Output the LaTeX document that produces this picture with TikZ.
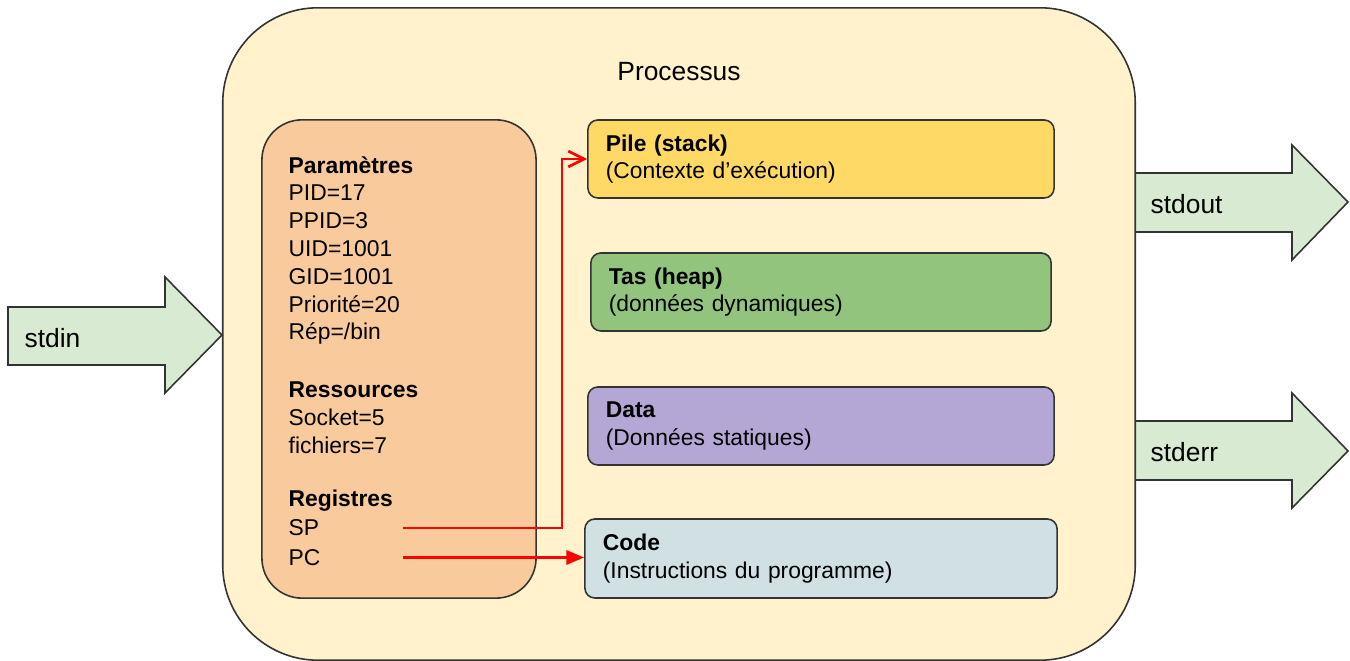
\documentclass[tikz,border=0pt]{standalone}
\usepackage{fontspec}
\setmainfont{Liberation Sans}
\usepackage{tikz}
\usetikzlibrary{arrows.meta,positioning}
\definecolor{procfill}{HTML}{FFF2CC}
\definecolor{infofill}{HTML}{F9CB9C}
\definecolor{pilefill}{HTML}{FFD966}
\definecolor{tasfill}{HTML}{93C47D}
\definecolor{datafill}{HTML}{B4A7D6}
\definecolor{codefill}{HTML}{D0E0E3}
\definecolor{fluxfill}{HTML}{D9EAD3}
\definecolor{trait}{HTML}{333333}
\tikzset{
    %Define standard arrow tip
    >={Triangle[length=5pt,width=4pt]},
    %Define style for the process box
    processus/.style={
           rectangle,
           rounded corners=0.95cm,
           draw=trait, line width=0.45pt,
           fill=procfill,
           minimum width=9.12cm,
           minimum height=6.52cm},
    infos/.style={
           rectangle,
           rounded corners=0.4cm,
           draw=trait, line width=0.45pt,
           fill=infofill,
           minimum width=2.74cm,
           minimum height=4.78cm},
    %Define style for memory boxes
    membox/.style={
           rectangle,
           rounded corners=0.1cm,
           draw=trait, line width=0.45pt,
           minimum width=4.66cm,
           minimum height=0.78cm,
           text width=4.30cm,
           inner xsep=0.18cm,
           align=left,
           font=\fontsize{6.5}{7.9}\selectfont},
    groupe/.style={
           anchor=west,
           inner sep=0pt,
           align=left,
           font=\fontsize{6.5}{7.9}\selectfont},
    registre/.style={
           anchor=west,
           inner sep=0pt,
           text width=1.14cm,
           align=left,
           font=\fontsize{6.5}{7.9}\selectfont},
    titre/.style={
           font=\fontsize{7.5}{9}\selectfont},
    fluxlabel/.style={
           anchor=west,
           inner sep=0pt,
           font=\fontsize{7.5}{9}\selectfont},
    % Define flux arrow style
    flux/.style={
           draw=trait, line width=0.45pt,
           fill=fluxfill},
    % Define pointer style
    pointeur/.style={
           red,
           line width=0.75pt}
}
\begin{document}
\begin{tikzpicture}[x=0.01cm,y=-0.01cm]
\useasboundingbox (0,0) rectangle (1350,661);
% flux
\draw[flux] (8,307) -- (165,307) -- (165,277) -- (222,335) -- (165,393) -- (165,365) -- (8,365) -- cycle;
\draw[flux] (1135,173) -- (1292,173) -- (1292,145) -- (1348,202) -- (1292,260) -- (1292,232) -- (1135,232) -- cycle;
\draw[flux] (1135,421) -- (1292,421) -- (1292,393) -- (1348,451) -- (1292,508) -- (1292,480) -- (1135,480) -- cycle;
\node[fluxlabel](stdin) at (24,338){stdin};
\node[fluxlabel](stdout) at (1150,204){stdout};
\node[fluxlabel](stderr) at (1150,452){stderr};
% processus
\node[processus](proc) at (679,334){};
\node[titre](titre) at (679,72){Processus};
\node[infos](infos) at (399,359){};
\node[groupe](param) at (288,250.5){\textbf{Paramètres}\\PID=17\\PPID=3\\UID=1001\\GID=1001\\Priorité=20\\Rép=/bin};
\node[groupe](ress) at (288,417.5){\textbf{Ressources}\\Socket=5\\fichiers=7};
\node[groupe](reg) at (288,500.5){\textbf{Registres}};
\node[registre](sp) at (288,528){SP};
\node[registre](pc) at (288,557.5){PC};
% memoire
\node[membox, fill=pilefill](pile) at (821,159){\textbf{Pile (stack)}\\(Contexte d’exécution)};
\node[membox, fill=tasfill, minimum width=4.60cm, text width=4.24cm](tas) at (821,292){\textbf{Tas (heap)}\\(données dynamiques)};
\node[membox, fill=datafill](data) at (821,426){\textbf{Data}\\(Données statiques)};
\node[membox, fill=codefill, minimum width=4.72cm, text width=4.36cm, minimum height=0.79cm](code) at (821,558.5){\textbf{Code}\\(Instructions du programme)};
% pointeurs
\draw[pointeur, -{Straight Barb[length=4.5pt,width=4.5pt]}] (sp.east) -| ([xshift=-0.25cm]pile.west) -- (pile.west);
\draw[pointeur, ->] (pc.east) -- (pc.east -| code.west);
\end{tikzpicture}
\end{document}
